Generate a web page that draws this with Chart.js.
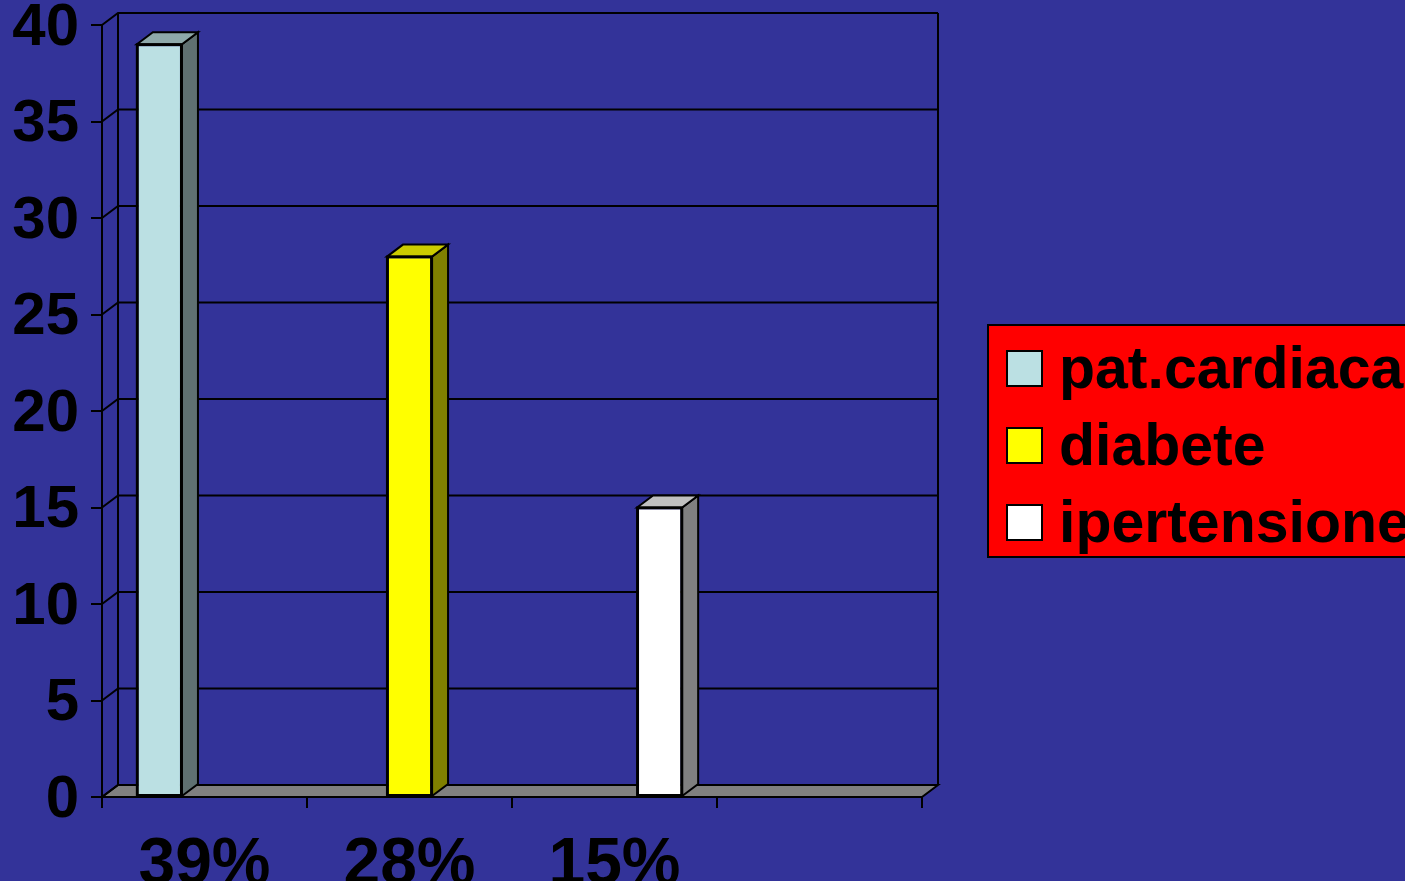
<!DOCTYPE html>
<html>
<head>
<meta charset="utf-8">
<script src="https://cdn.jsdelivr.net/npm/chart.js@4/dist/chart.umd.min.js"></script>
<style>
  html, body { margin: 0; padding: 0; background: #333399; }
  #wrap { width: 1405px; height: 881px; }
</style>
</head>
<body>
<div id="wrap"><canvas id="chart" width="1405" height="881"></canvas></div>
<script>
// data
const categories = ["39%", "28%", "15%", ""];
const seriesNames = ["pat.cardiaca", "diabete", "ipertensione"];
const cardiaca = [39, null, null, null];
const diabete = [null, 28, null, null];
const ipertensione = [null, null, 15, null];
const yTicks = [0, 5, 10, 15, 20, 25, 30, 35, 40];

// face colours: front, top, side
const faces = [
    ["#BBE0E3", "#8EA9AA", "#5F7071"],
    ["#FFFF00", "#CCCC00", "#808000"],
    ["#FFFFFF", "#C0C0C0", "#808080"],
];

const FONT = "'Liberation Sans', Arial, sans-serif";
const DX = 16, DY = -12;

// back wall, floor and side wall lines
const wallPlugin = {
    id: "wall",
    beforeDraw(chart) {
        const ctx = chart.ctx;
        ctx.save();
        ctx.fillStyle = "#333399";
        ctx.fillRect(0, 0, chart.width, chart.height);
        ctx.restore();
    },
    beforeDatasetsDraw(chart) {
        const ctx = chart.ctx;
        const a = chart.chartArea;
        const y = chart.scales.y;
        ctx.save();
        ctx.strokeStyle = "#000";
        ctx.lineWidth = 2;

        // floor
        ctx.fillStyle = "#808080";
        ctx.beginPath();
        ctx.moveTo(a.left, a.bottom);
        ctx.lineTo(a.right, a.bottom);
        ctx.lineTo(a.right + DX, a.bottom + DY);
        ctx.lineTo(a.left + DX, a.bottom + DY);
        ctx.closePath();
        ctx.fill();
        ctx.stroke();

        // grid lines on back wall, with diagonals on the side wall
        yTicks.forEach(v => {
            const py = y.getPixelForValue(v);
            ctx.beginPath();
            ctx.moveTo(a.left, py);
            ctx.lineTo(a.left + DX, py + DY);
            ctx.lineTo(a.right + DX, py + DY);
            ctx.stroke();
        });

        // back wall edges
        ctx.beginPath();
        ctx.moveTo(a.left + DX, a.top + DY);
        ctx.lineTo(a.left + DX, a.bottom + DY);
        ctx.moveTo(a.right + DX, a.top + DY);
        ctx.lineTo(a.right + DX, a.bottom + DY);
        ctx.stroke();
        ctx.restore();
    },
    afterDatasetsDraw(chart) {
        const ctx = chart.ctx;
        ctx.save();
        ctx.strokeStyle = "#000";
        ctx.lineWidth = 2;
        chart.data.datasets.forEach((ds, i) => {
            const meta = chart.getDatasetMeta(i);
            meta.data.forEach((el, j) => {
                if (ds.data[j] == null) return;
                const p = el.getProps(["x", "y", "base", "width"], true);
                const l = p.x - p.width / 2, r = p.x + p.width / 2;
                // side
                ctx.fillStyle = faces[i][2];
                ctx.beginPath();
                ctx.moveTo(r, p.base);
                ctx.lineTo(r + DX, p.base + DY);
                ctx.lineTo(r + DX, p.y + DY);
                ctx.lineTo(r, p.y);
                ctx.closePath();
                ctx.fill();
                ctx.stroke();
                // top
                ctx.fillStyle = faces[i][1];
                ctx.beginPath();
                ctx.moveTo(l, p.y);
                ctx.lineTo(l + DX, p.y + DY);
                ctx.lineTo(r + DX, p.y + DY);
                ctx.lineTo(r, p.y);
                ctx.closePath();
                ctx.fill();
                ctx.stroke();
                // front outline
                ctx.strokeRect(l, p.y, p.width, p.base - p.y);
            });
        });
        ctx.restore();
    },
    afterDraw(chart) {
        // legend box
        const ctx = chart.ctx;
        ctx.save();
        ctx.fillStyle = "#FF0000";
        ctx.strokeStyle = "#000";
        ctx.lineWidth = 2;
        ctx.fillRect(988, 325, 440, 232);
        ctx.strokeRect(988, 325, 440, 232);
        ctx.font = "bold 59px " + FONT;
        ctx.textBaseline = "middle";
        chart.data.datasets.forEach((ds, i) => {
            const top = 351 + i * 77;
            ctx.fillStyle = ds.backgroundColor;
            ctx.fillRect(1007, top, 35, 35);
            ctx.strokeRect(1007, top, 35, 35);
            ctx.fillStyle = "#000";
            ctx.fillText(ds.label, 1059, top + 21);
        });
        ctx.restore();
    }
};

const series = [cardiaca, diabete, ipertensione];

new Chart(document.getElementById("chart"), {
    type: "bar",
    data: {
        labels: categories,
        datasets: series.map((d, i) => ({
            label: seriesNames[i],
            data: d,
            backgroundColor: faces[i][0],
            borderColor: "#000",
            borderWidth: 2,
            borderSkipped: false,
            categoryPercentage: 0.66,
            barPercentage: 1.0,
        })),
    },
    options: {
        responsive: false,
        animation: false,
        layout: { padding: { left: 0, top: 25, right: 483, bottom: 0 } },
        plugins: {
            legend: { display: false },
            tooltip: { enabled: false },
        },
        scales: {
            x: {
                grid: { drawOnChartArea: false, drawTicks: true, tickLength: 11, color: "#000", lineWidth: 2, offset: true },
                border: { display: true, color: "#000", width: 2 },
                ticks: { color: "#000", padding: 18, maxRotation: 0, font: { family: FONT, size: 66, weight: "bold" } },
                afterFit(s) { s.height = 84; s.paddingLeft = 0; s.paddingRight = 0; },
            },
            y: {
                min: 0,
                max: 40,
                ticks: { stepSize: 5, color: "#000", padding: 12, labelOffset: 3, font: { family: FONT, size: 60, weight: "bold" } },
                grid: { drawOnChartArea: false, drawTicks: true, tickLength: 11, color: "#000", lineWidth: 2 },
                border: { display: true, color: "#000", width: 2 },
                afterFit(s) { s.width = 102; s.paddingTop = 0; s.paddingBottom = 0; },
            },
        },
    },
    plugins: [wallPlugin],
});
</script>
</body>
</html>
